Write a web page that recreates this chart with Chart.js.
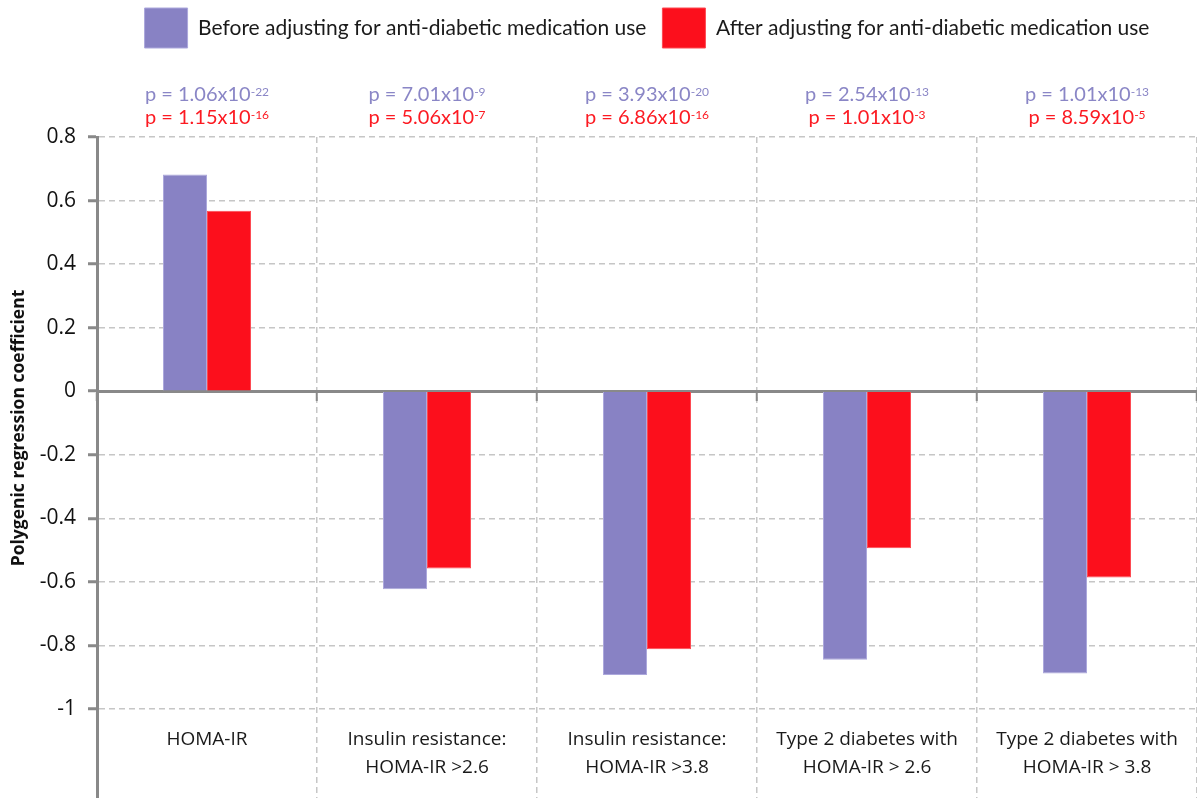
<!DOCTYPE html>
<html>
<head>
<meta charset="utf-8">
<script src="https://cdn.jsdelivr.net/npm/chart.js@4/dist/chart.umd.min.js"></script>
<style>
  html, body { margin: 0; padding: 0; background: #ffffff; }
  #c { display: block; }
</style>
</head>
<body>
<canvas id="c" width="1197" height="798"></canvas>
<script>
// Outcome categories (each entry is the lines of its label)
const categories = [
  ['HOMA-IR'],
  ['Insulin resistance:', 'HOMA-IR >2.6'],
  ['Insulin resistance:', 'HOMA-IR >3.8'],
  ['Type 2 diabetes with', 'HOMA-IR > 2.6'],
  ['Type 2 diabetes with', 'HOMA-IR > 3.8']
];
const seriesNames = [
  'Before adjusting for anti-diabetic medication use',
  'After adjusting for anti-diabetic medication use'
];
// Polygenic regression coefficients
const beforeValues = [0.682, -0.623, -0.893, -0.845, -0.888];
const afterValues  = [0.568, -0.558, -0.812, -0.494, -0.586];
// p-values as [mantissa, exponent]
const beforePValues = [['1.06', '-22'], ['7.01', '-9'], ['3.93', '-20'], ['2.54', '-13'], ['1.01', '-13']];
const afterPValues  = [['1.15', '-16'], ['5.06', '-7'], ['6.86', '-16'], ['1.01', '-3'], ['8.59', '-5']];
// Value axis ticks
const yTicks = [0.8, 0.6, 0.4, 0.2, 0, -0.2, -0.4, -0.6, -0.8, -1];
const yTitle = 'Polygenic regression coefficient';

const purple = '#8882c4';
const red = '#fc0f1c';
const pColors = ['#8a86c6', '#fc1a22'];
const axisGray = '#898989';
const gridGray = '#c6c6c6';

// Legend band height, including the room for the p-value rows under it
const legendBandHeight = 145;

const legendSpacer = {
  id: 'legendSpacer',
  beforeInit(chart) {
    if (!chart.legend) return;
    const origFit = chart.legend.fit;
    chart.legend.fit = function () {
      origFit.call(this);
      this.height = legendBandHeight;
    };
  }
};

// p-value rows above each category group
const pValueLabels = {
  id: 'pValueLabels',
  afterDraw(chart) {
    const { ctx, chartArea, scales: { x } } = chart;
    const rows = [
      { vals: beforePValues, color: pColors[0], offset: -36 },
      { vals: afterPValues, color: pColors[1], offset: -13 }
    ];
    ctx.save();
    ctx.textBaseline = 'alphabetic';
    ctx.textAlign = 'left';
    rows.forEach(row => {
      ctx.fillStyle = row.color;
      row.vals.forEach((pv, i) => {
        const cx = x.getPixelForValue(i);
        const main = 'p = ' + pv[0] + 'x10';
        const sup = pv[1];
        ctx.font = '20px Lato';
        const wm = ctx.measureText(main).width;
        ctx.font = '12px Lato';
        const ws = ctx.measureText(sup).width;
        const start = cx - (wm + ws) / 2;
        const base = chartArea.top + row.offset;
        ctx.font = '20px Lato';
        ctx.fillText(main, start, base);
        ctx.font = '12px Lato';
        ctx.fillText(sup, start + wm, base - 5);
      });
    });
    ctx.restore();
  }
};

// Category names below the -1 gridline
const categoryLabels = {
  id: 'categoryLabels',
  afterDraw(chart) {
    const { ctx, scales: { x, y } } = chart;
    const top = y.getPixelForValue(-1) + 31;
    ctx.save();
    ctx.font = '19px "Open Sans"';
    ctx.fillStyle = '#1a1a1a';
    ctx.textAlign = 'center';
    ctx.textBaseline = 'middle';
    categories.forEach((lines, i) => {
      const cx = x.getPixelForValue(i);
      lines.forEach((line, k) => ctx.fillText(line, cx, top + k * 28));
    });
    ctx.restore();
  }
};

// Rotated value-axis title
const valueAxisTitle = {
  id: 'valueAxisTitle',
  afterDraw(chart) {
    const { ctx, scales: { y } } = chart;
    const cy = (y.getPixelForValue(yTicks[0]) + y.getPixelForValue(yTicks[yTicks.length - 1])) / 2 + 5;
    ctx.save();
    ctx.translate(19, cy);
    ctx.rotate(-Math.PI / 2);
    ctx.font = 'bold 17.5px "Open Sans"';
    ctx.fillStyle = '#111111';
    ctx.textAlign = 'center';
    ctx.textBaseline = 'middle';
    ctx.fillText(yTitle, 0, 0);
    ctx.restore();
  }
};

new Chart(document.getElementById('c'), {
  type: 'bar',
  data: {
    labels: categories.map(l => l.join(' ')),
    datasets: [
      {
        label: seriesNames[0],
        data: beforeValues,
        backgroundColor: purple,
        borderColor: '#aca8dc',
        borderWidth: 1
      },
      {
        label: seriesNames[1],
        data: afterValues,
        backgroundColor: red,
        borderColor: '#fd4a52',
        borderWidth: 1
      }
    ]
  },
  options: {
    responsive: false,
    animation: false,
    devicePixelRatio: 1,
    layout: { padding: { top: -8, left: 0, right: 0, bottom: 0 } },
    datasets: {
      bar: { categoryPercentage: 0.4, barPercentage: 1.0 }
    },
    plugins: {
      tooltip: { enabled: false },
      legend: {
        position: 'top',
        fullSize: false,
        labels: {
          boxWidth: 43,
          boxHeight: 40,
          padding: 16,
          color: '#1a1a1a',
          font: { family: 'Lato', size: 21 }
        }
      }
    },
    scales: {
      x: {
        type: 'category',
        position: { y: 0 },
        offset: true,
        z: 1,
        afterFit(scale) {
          scale.height = 0;
          scale.paddingLeft = 0;
          scale.paddingRight = 0;
        },
        ticks: { display: false },
        grid: {
          offset: true,
          color: gridGray,
          lineWidth: 1.5,
          drawTicks: true,
          tickLength: 8,
          tickWidth: 2,
          tickColor: axisGray,
          tickBorderDash: []
        },
        border: { color: axisGray, width: 3, dash: [6, 4] }
      },
      y: {
        min: -1.28,
        max: 0.8,
        afterBuildTicks(scale) {
          scale.ticks = yTicks.map(v => ({ value: v }));
        },
        afterFit(scale) {
          scale.width = 97;
          scale.paddingTop = 0;
          scale.paddingBottom = 0;
        },
        ticks: {
          color: '#111111',
          padding: 12,
          font: { family: 'Open Sans', size: 21 },
          callback: v => String(Math.round(v * 10) / 10)
        },
        grid: {
          color: gridGray,
          lineWidth: 1.5,
          tickLength: 9,
          tickWidth: 3,
          tickColor: axisGray,
          tickBorderDash: []
        },
        border: { color: axisGray, width: 3, dash: [6, 4] }
      }
    }
  },
  plugins: [legendSpacer, pValueLabels, categoryLabels, valueAxisTitle]
});
</script>
</body>
</html>
